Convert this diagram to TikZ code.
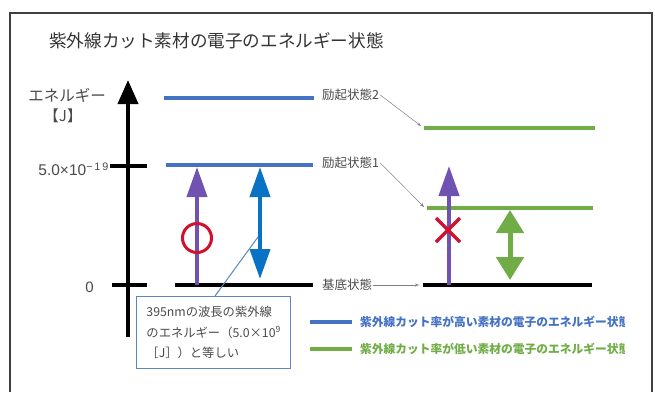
\documentclass[tikz,border=0pt]{standalone}
\usepackage{fontspec}
\setmainfont{Noto Sans CJK JP}
\newfontfamily\arialish{Liberation Sans}
\usetikzlibrary{arrows.meta,calc}
\definecolor{lvlblue}{HTML}{4472C4}
\definecolor{lvlgreen}{HTML}{70AD47}
\definecolor{arrpurple}{HTML}{7052B0}
\definecolor{arrblue}{HTML}{0A72C4}
\definecolor{markred}{HTML}{D0122E}
\definecolor{txtgray}{HTML}{4A4A4A}
\definecolor{boxblue}{HTML}{5B86BE}
\tikzset{
  level/.style={line width=3.5pt},
  fatarrow/.style={line width=4pt,-{Triangle[width=20pt,length=30pt]}},
  dblarrow/.style={line width=4pt,{Triangle[width=20pt,length=30pt]}-{Triangle[width=20pt,length=30pt]}},
  lbl/.style={text=txtgray,font=\fontsize{12.5}{14}\selectfont,inner sep=1pt},
  leader/.style={draw=gray,line width=0.5pt,-{Stealth[length=4pt,width=3pt]}},
  legtext/.style={anchor=west,font=\fontsize{11.75}{13}\selectfont\bfseries,inner sep=0pt},
}
\begin{document}
\begin{tikzpicture}[x=1pt,y=-1pt]
\useasboundingbox (0,0) rectangle (655,392);
% frame
\draw[line width=1.8pt,black!75] (10,392) -- (10,13) -- (652,13) -- (652,392);
% title
\node[anchor=west,text=black!80,font=\fontsize{17.6}{20}\selectfont,inner sep=0pt] (title) at (49,41) {紫外線カット素材の電子のエネルギー状態};
% axis
\coordinate (ax0) at (128,337);
\coordinate (ax1) at (128,80);
\draw[line width=4pt,-{Triangle[width=20pt,length=24pt]}] (ax0) -- (ax1);
\coordinate (t1a) at (110,166); \coordinate (t1b) at (147,166);
\coordinate (t0a) at (112,285); \coordinate (t0b) at (147,285);
\draw[line width=4pt] (t1a) -- (t1b);
\draw[line width=4pt] (t0a) -- (t0b);
\node[text=txtgray,font=\fontsize{15.5}{17}\selectfont,inner sep=0pt] (ylab) at (67,95) {エネルギー};
\node[text=txtgray,font=\fontsize{15}{17}\selectfont,inner sep=0pt] (yunit) at (63,116) {【J】};
\node[anchor=east,text=txtgray,font=\arialish\fontsize{15.5}{17}\selectfont,inner sep=0pt] (v1) at (109,169) {5.0×10\textsuperscript{−\,1\,9}};
\node[anchor=east,text=txtgray,font=\arialish\fontsize{15}{17}\selectfont,inner sep=0pt] (v0) at (94,287) {0};
% left levels (blue = high cut)
\coordinate (b2a) at (164,98); \coordinate (b2b) at (314,98);
\coordinate (b1a) at (166,165); \coordinate (b1b) at (313,165);
\coordinate (g0a) at (175,285); \coordinate (g0b) at (313,285);
\draw[level,lvlblue] (b2a) -- (b2b);
\draw[level,lvlblue] (b1a) -- (b1b);
\draw[level,black] (g0a) -- (g0b);
% right levels (green = low cut)
\coordinate (r2a) at (424,128); \coordinate (r2b) at (595,128);
\coordinate (r1a) at (427,208); \coordinate (r1b) at (593,208);
\coordinate (r0a) at (423,285); \coordinate (r0b) at (592,285);
\draw[level,lvlgreen] (r2a) -- (r2b);
\draw[level,lvlgreen] (r1a) -- (r1b);
\draw[level,black] (r0a) -- (r0b);
% state labels
\node[lbl,anchor=west] (ex2) at (321,95) {励起状態2};
\node[lbl,anchor=west] (ex1) at (321,163) {励起状態1};
\node[lbl,anchor=west] (gs) at (321,285) {基底状態};
\draw[leader] (ex2.east) -- ($(r2a)+(-3,-2)$);
\draw[leader] (ex1.east) -- ($(r1a)+(-3,-1)$);
\draw[leader] (gs.east) -- ($(r0a)+(-4,0)$);
% left arrows
\coordinate (pl0) at (197,285); \coordinate (pl1) at (197,167);
\draw[fatarrow,arrpurple] (pl0) -- (pl1);
\coordinate (ok) at (197,238);
\draw[markred,line width=3pt] (ok) circle (14.5);
\coordinate (bl1) at (260,167); \coordinate (bl0) at (260,279);
\draw[dblarrow,arrblue] (bl1) -- (bl0);
% right arrows
\coordinate (pr0) at (449,285); \coordinate (pr1) at (449,166);
\draw[fatarrow,arrpurple] (pr0) -- (pr1);
\coordinate (ng) at (448,230);
\draw[markred,line width=3.5pt] ($(ng)+(-12,-12)$) -- ($(ng)+(12,12)$);
\draw[markred,line width=3.5pt] ($(ng)+(-12,12)$) -- ($(ng)+(12,-12)$);
\coordinate (gr1) at (510,210); \coordinate (gr0) at (510,280);
\draw[line width=5pt,lvlgreen,{Triangle[width=27pt,length=23pt]}-{Triangle[width=27pt,length=23pt]}] (gr1) -- (gr0);
% callout
\node[draw=boxblue,line width=1.3pt,anchor=north west,minimum width=154pt,minimum height=72pt,inner sep=1pt,align=left,text=txtgray,font=\fontsize{12.3}{20.5}\selectfont] (callout) at (136,296)
  {395nmの波長の紫外線\\のエネルギー（5.0×10\textsuperscript{9}\\［J］）と等しい};
\coordinate (cp) at (258,237);
\draw[boxblue,line width=1pt] ($(callout.north west)+(79,0)$) -- (cp);
% legend
\coordinate (lb1) at (310,322); \coordinate (lb2) at (352,322);
\coordinate (lg1) at (310,349); \coordinate (lg2) at (352,349);
\draw[line width=3.5pt,lvlblue] (lb1) -- (lb2);
\draw[line width=3.5pt,lvlgreen] (lg1) -- (lg2);
\begin{scope}
\clip (355,305) rectangle (624,365);
\node[legtext,text=lvlblue] (leg1) at (360,322) {紫外線カット率が高い素材の電子のエネルギー状態};
\node[legtext,text=lvlgreen] (leg2) at (360,349) {紫外線カット率が低い素材の電子のエネルギー状態};
\end{scope}
\end{tikzpicture}
\end{document}
